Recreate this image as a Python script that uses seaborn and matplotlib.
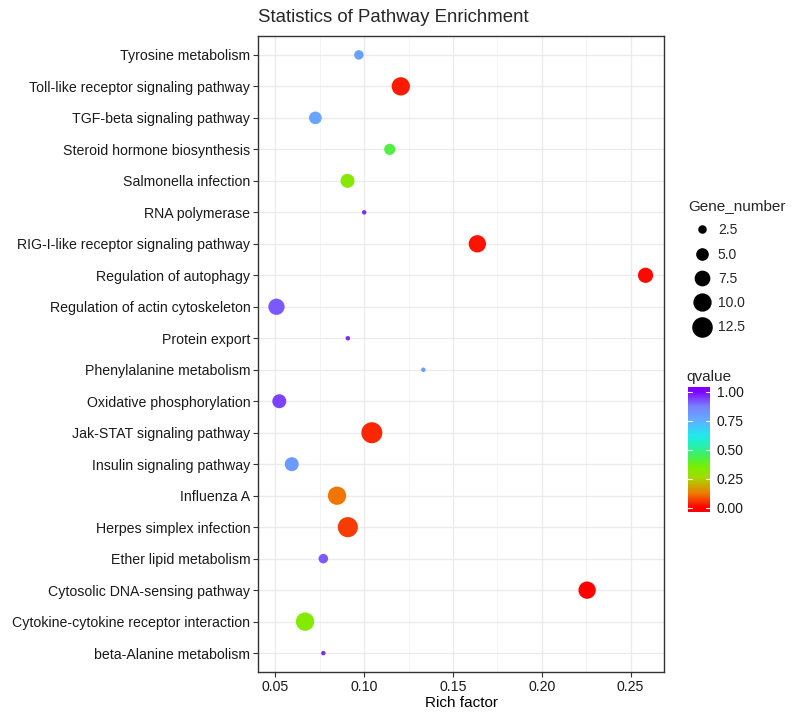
import numpy as np
import pandas as pd
import matplotlib
matplotlib.use("Agg")
import matplotlib.pyplot as plt
import seaborn as sns
from matplotlib.colors import LinearSegmentedColormap, Normalize
from matplotlib.lines import Line2D
from matplotlib.ticker import MultipleLocator, FormatStrFormatter

# ---------------- data (top to bottom as shown) ----------------
pathways = [
    "Tyrosine metabolism",
    "Toll-like receptor signaling pathway",
    "TGF-beta signaling pathway",
    "Steroid hormone biosynthesis",
    "Salmonella infection",
    "RNA polymerase",
    "RIG-I-like receptor signaling pathway",
    "Regulation of autophagy",
    "Regulation of actin cytoskeleton",
    "Protein export",
    "Phenylalanine metabolism",
    "Oxidative phosphorylation",
    "Jak-STAT signaling pathway",
    "Insulin signaling pathway",
    "Influenza A",
    "Herpes simplex infection",
    "Ether lipid metabolism",
    "Cytosolic DNA-sensing pathway",
    "Cytokine-cytokine receptor interaction",
    "beta-Alanine metabolism",
]
rich_factor = [0.097, 0.1206, 0.0725, 0.1144, 0.0906, 0.100, 0.1637, 0.2584,
               0.0506, 0.0908, 0.1333, 0.0522, 0.1043, 0.0592, 0.0847, 0.0908,
               0.0770, 0.2255, 0.0667, 0.0770]
gene_number = [3, 10, 5, 4, 6, 1, 9, 7, 8, 1, 1, 6, 13, 6, 10, 12, 3, 9, 10, 1]
qvalue = [0.78, 0.03, 0.77, 0.42, 0.32, 0.95, 0.02, 0.01, 0.91, 0.95, 0.78,
          0.93, 0.04, 0.80, 0.12, 0.06, 0.91, 0.00, 0.33, 0.95]

size_breaks = [2.5, 5.0, 7.5, 10.0, 12.5]
q_breaks = [0.0, 0.25, 0.5, 0.75, 1.0]

df = pd.DataFrame({"Pathway": pathways, "Rich factor": rich_factor,
                   "Gene_number": gene_number, "qvalue": qvalue})

# ---------------- style ----------------
sns.set_theme(style="white")
plt.rcParams["font.family"] = ["Liberation Sans", "DejaVu Sans"]

cmap = LinearSegmentedColormap.from_list("qrainbow", [
    (0.00, "#FF0000"), (0.12, "#F07800"), (0.25, "#A8D800"),
    (0.35, "#78F000"), (0.45, "#40F060"), (0.55, "#20F0C0"),
    (0.62, "#20E8F0"), (0.75, "#62AEFF"), (0.87, "#7A80FF"),
    (1.00, "#7F00FF")])
norm = Normalize(0, 1)

smin, smax = 10.5, 228.0
gmin, gmax = 1, 13

W, H = 793, 713
fig = plt.figure(figsize=(W / 100, H / 100), dpi=100)
fig.patch.set_facecolor("white")
ax = fig.add_axes([258 / W, 1 - 672 / H, (664 - 258) / W, (672 - 36) / H])

sns.scatterplot(data=df, x="Rich factor", y="Pathway", hue="qvalue",
                hue_norm=norm, palette=cmap, size="Gene_number",
                sizes=(smin, smax), size_norm=(gmin, gmax), legend=False,
                linewidth=0, ax=ax, zorder=3)

n = len(pathways)
ax.set_ylim(n - 0.4, -0.6)
lo, hi = min(rich_factor), max(rich_factor)
pad = (hi - lo) * 0.05
ax.set_xlim(lo - pad, hi + pad)
ax.xaxis.set_major_locator(MultipleLocator(0.05))
ax.xaxis.set_minor_locator(MultipleLocator(0.025))
ax.xaxis.set_major_formatter(FormatStrFormatter("%.2f"))

ax.set_axisbelow(True)
ax.grid(which="major", color="#EBEBEB", linewidth=1.0)
ax.grid(which="minor", axis="x", color="#F2F2F2", linewidth=0.6)
for sp in ax.spines.values():
    sp.set_color("#333333")
    sp.set_linewidth(1.0)
ax.tick_params(which="major", direction="out", length=3.5, width=0.8,
               color="#333333", labelsize=10.2, labelcolor="#1A1A1A", pad=2,
               left=True, bottom=True)
ax.tick_params(which="minor", length=0)
ax.set_xlabel("Rich factor", fontsize=11, color="#000000", labelpad=2)
ax.set_ylabel("")

fig.text(258 / W, 1 - 17 / H, "Statistics of Pathway Enrichment",
         fontsize=13.4, ha="left", va="center")

# ---------------- size legend ----------------
def marker_area(g):
    return smin + (g - gmin) / (gmax - gmin) * (smax - smin)

handles = [Line2D([], [], marker="o", linestyle="", color="black",
                  markeredgewidth=0, markersize=np.sqrt(marker_area(g)))
           for g in size_breaks]
leg = fig.legend(handles, [f"{g:.1f}" for g in size_breaks], title="Gene_number",
                 loc="upper left", bbox_to_anchor=(688 / W, 1 - 199 / H),
                 frameon=False, fontsize=10, title_fontsize=11,
                 labelspacing=0.74, handlelength=2.0, handletextpad=0.15,
                 alignment="left", borderaxespad=0, borderpad=0)

# ---------------- colour bar ----------------
cax = fig.add_axes([688 / W, 1 - 512 / H, 22 / W, (512 - 387) / H])
ylo, yhi = -0.035, 1.04
grad = np.linspace(ylo, yhi, 300).reshape(-1, 1)
cax.imshow(cmap(norm(np.clip(grad, 0, 1))), aspect="auto", origin="lower",
           extent=(0, 1, ylo, yhi))
cax.set_xlim(0, 1)
cax.set_ylim(ylo, yhi)
cax.set_xticks([])
cax.yaxis.tick_right()
cax.set_yticks(q_breaks)
cax.set_yticklabels([f"{v:.2f}" for v in q_breaks])
cax.tick_params(axis="y", length=0, labelsize=10, pad=5, labelcolor="#1A1A1A")
for sp in cax.spines.values():
    sp.set_visible(False)
for v in q_breaks:
    cax.plot([0, 0.2], [v, v], color="white", lw=0.8)
    cax.plot([0.8, 1.0], [v, v], color="white", lw=0.8)
fig.text(686 / W, 1 - 377 / H, "qvalue", fontsize=11, ha="left", va="center")

fig.savefig("out.png", dpi=100, facecolor="white")
